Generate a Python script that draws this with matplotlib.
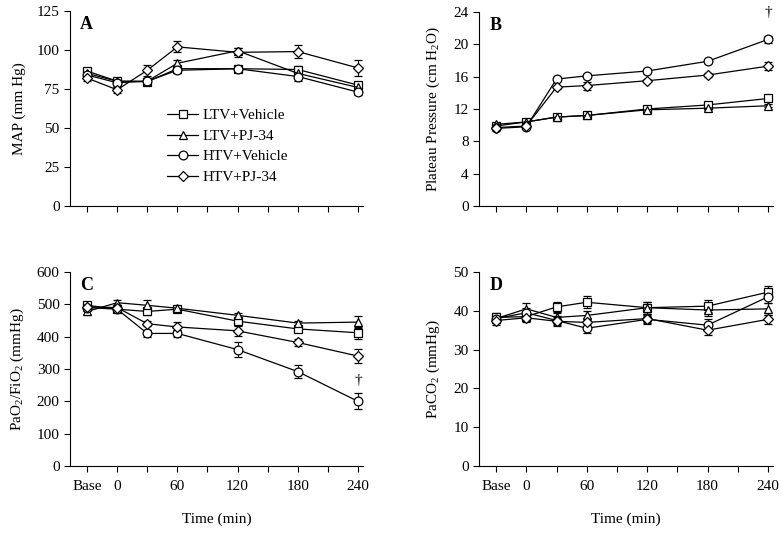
import matplotlib
matplotlib.use("Agg")
import matplotlib.pyplot as plt
from matplotlib.lines import Line2D
import numpy as np

plt.rcParams['font.family'] = ['Liberation Serif', 'DejaVu Serif']
plt.rcParams['mathtext.fontset'] = 'custom'
plt.rcParams['mathtext.rm'] = 'Liberation Serif'
plt.rcParams['mathtext.it'] = 'Liberation Serif:italic'

times = [-30, 0, 30, 60, 120, 180, 240]
groups = ["LTV+Vehicle", "LTV+PJ-34", "HTV+Vehicle", "HTV+PJ-34"]
markers = ["s", "^", "o", "D"]

# Panel A: MAP (mm Hg)
map_ltv_veh = [86.5, 80, 79.7, 88, 88, 87.5, 77.5]
map_ltv_pj = [85, 80, 80, 91.5, 99.5, 85, 76]
map_htv_veh = [84, 79, 80, 87, 88, 83, 73]
map_htv_pj = [82, 74.5, 87, 102, 98.5, 99, 88.5]
map_err = [[2, 2, 2, 2, 2, 2, 2],
           [2, 2, 2, 2, 2, 2, 2],
           [2, 2, 2, 2, 2, 3, 2],
           [2, 2, 3.5, 3.5, 3, 4, 5]]

# Panel B: Plateau pressure (cm H2O)
pp_ltv_veh = [9.9, 10.4, 11.0, 11.2, 12.0, 12.5, 13.3]
pp_ltv_pj = [10.1, 10.4, 11.0, 11.2, 11.9, 12.1, 12.4]
pp_htv_veh = [9.6, 9.8, 15.7, 16.1, 16.7, 17.9, 20.6]
pp_htv_pj = [9.7, 9.9, 14.7, 14.9, 15.5, 16.2, 17.3]
pp_err = [[0.2, 0.2, 0.2, 0.2, 0.2, 0.2, 0.2],
          [0.2, 0.2, 0.2, 0.2, 0.2, 0.2, 0.2],
          [0.2, 0.2, 0.2, 0.2, 0.2, 0.2, 0.4],
          [0.2, 0.2, 0.2, 0.5, 0.2, 0.2, 0.5]]

# Panel C: PaO2/FiO2 (mmHg)
pf_ltv_veh = [497, 485, 478, 485, 448, 424, 412]
pf_ltv_pj = [478, 505, 497, 488, 466, 442, 445]
pf_htv_veh = [490, 485, 410, 410, 360, 292, 200]
pf_htv_pj = [492, 490, 440, 430, 418, 382, 340]
pf_err = [[10, 10, 12, 10, 12, 10, 18],
          [12, 8, 15, 8, 8, 8, 18],
          [10, 10, 12, 10, 22, 20, 25],
          [10, 8, 8, 15, 15, 12, 22]]

# Panel D: PaCO2 (mmHg)
pc_ltv_veh = [38.3, 38.5, 41.0, 42.2, 40.8, 41.2, 44.8]
pc_ltv_pj = [38.0, 40.5, 38.3, 38.8, 40.8, 40.2, 40.5]
pc_htv_veh = [38.0, 39.5, 37.5, 35.5, 37.8, 36.3, 43.6]
pc_htv_pj = [37.5, 38.2, 37.3, 37.0, 38.0, 35.0, 37.8]
pc_err = [[1.2, 1.2, 1.2, 1.5, 1.5, 1.5, 1.5],
          [1.2, 1.5, 1.2, 1.2, 1.5, 1.5, 1.5],
          [1.2, 1.2, 1.2, 1.2, 1.2, 1.5, 1.5],
          [1.2, 1.2, 1.2, 1.2, 1.2, 1.2, 1.2]]

xtick_pos = [-30, 0, 30, 60, 90, 120, 150, 180, 210, 240]
xtick_labels = ["Base", "0", "", "60", "", "120", "", "180", "", "240"]

fig = plt.figure(figsize=(7.82, 5.33), dpi=100)
W, H = 782, 533

def make_ax(l, r, t, b):
    return fig.add_axes([l / W, 1 - b / H, (r - l) / W, (b - t) / H])

axA = make_ax(70, 363, 11, 206)
axB = make_ax(479, 773, 12, 206)
axC = make_ax(70, 363, 272, 466)
axD = make_ax(479, 773, 272, 466)

panels = [
    (axA, [map_ltv_veh, map_ltv_pj, map_htv_veh, map_htv_pj], map_err, (0, 125), [0, 25, 50, 75, 100, 125], "MAP (mm Hg)", "A", False),
    (axB, [pp_ltv_veh, pp_ltv_pj, pp_htv_veh, pp_htv_pj], pp_err, (0, 24), [0, 4, 8, 12, 16, 20, 24], "Plateau Pressure (cm H$\\mathregular{_2}$O)", "B", False),
    (axC, [pf_ltv_veh, pf_ltv_pj, pf_htv_veh, pf_htv_pj], pf_err, (0, 600), [0, 100, 200, 300, 400, 500, 600], "PaO$\\mathregular{_2}$/FiO$\\mathregular{_2}$ (mmHg)", "C", True),
    (axD, [pc_ltv_veh, pc_ltv_pj, pc_htv_veh, pc_htv_pj], pc_err, (0, 50), [0, 10, 20, 30, 40, 50], "PaCO$\\mathregular{_2}$ (mmHg)", "D", True),
]

def msize(m):
    return 5.0 if m == "D" else 6.3

for ax, series, errs, ylim, yticks, ylabel, letter, show_x in panels:
    for vals, err, m, g in zip(series, errs, markers, groups):
        ax.errorbar(times, vals, yerr=err, color="black", lw=0.9, marker=m,
                    markersize=msize(m), markerfacecolor="white", markeredgecolor="black",
                    markeredgewidth=0.9, capsize=3, elinewidth=0.8, capthick=0.9,
                    clip_on=False)
    ax.set_xlim(-47, 245)
    ax.set_ylim(*ylim)
    ax.set_yticks(yticks)
    ax.set_xticks(xtick_pos)
    if show_x:
        ax.set_xticklabels(xtick_labels)
        ax.set_xlabel("Time (min)", fontsize=11, labelpad=14)
    else:
        ax.set_xticklabels([])
    ax.spines['top'].set_visible(False)
    ax.spines['right'].set_visible(False)
    ax.tick_params(direction='out', length=4, width=0.8, labelsize=11)
    ax.tick_params(axis='x', pad=6)
    ax.set_ylabel(ylabel, fontsize=11, labelpad=8)
    ax.text(0.057, 0.93, letter, transform=ax.transAxes, fontsize=13,
            fontweight='bold', ha='center', va='center')

handles = [Line2D([0], [0], color="black", lw=0.9, marker=m, markersize=msize(m),
                  markerfacecolor="white", markeredgecolor="black", markeredgewidth=0.9)
           for m in markers]
axA.legend(handles, groups, loc='upper left', bbox_to_anchor=(0.285, 0.57), frameon=False,
           fontsize=11, handlelength=2.0, labelspacing=0.45, handletextpad=0.3)

axB.text(240, 24, "\u2020", ha='center', va='center', fontsize=11, clip_on=False)
axC.text(240, 265, "\u2020", ha='center', va='center', fontsize=11)

fig.savefig("out.png", dpi=100)
